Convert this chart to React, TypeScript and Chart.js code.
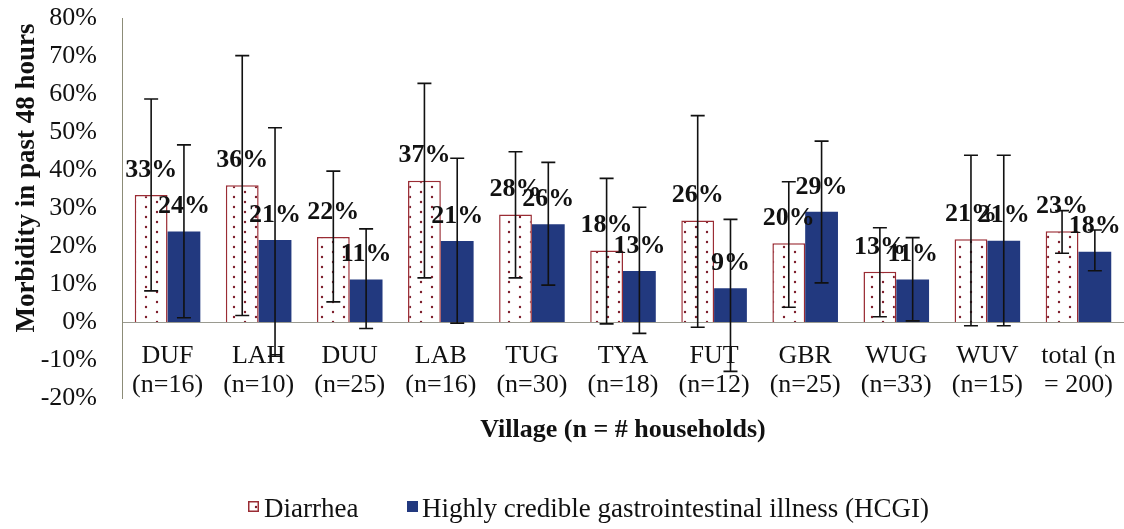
import { useEffect, useRef } from 'react';
import { Chart, registerables } from 'chart.js';

Chart.register(...registerables);

const SERIF = '"Liberation Serif", "Times New Roman", serif';

// Categories
const villageNames = ['DUF', 'LAH', 'DUU', 'LAB', 'TUG', 'TYA', 'FUT', 'GBR', 'WUG', 'WUV', 'total (n'];
const householdCounts = ['(n=16)', '(n=10)', '(n=25)', '(n=16)', '(n=30)', '(n=18)', '(n=12)', '(n=25)', '(n=33)', '(n=15)', '= 200)'];

// Diarrhea (percent)
const diarrhea = [33.4, 36.0, 22.4, 37.2, 28.3, 18.8, 26.7, 20.7, 13.2, 21.8, 23.9];
const diarrheaLabels = ['33%', '36%', '22%', '37%', '28%', '18%', '26%', '20%', '13%', '21%', '23%'];
const diarrheaHigh = [58.7, 70.1, 39.7, 62.8, 44.8, 37.8, 54.3, 36.9, 24.8, 43.9, 29.3];
const diarrheaLow = [8.2, 1.7, 5.3, 11.6, 11.6, -0.5, -1.4, 3.9, 1.4, -1.0, 18.1];

// Highly credible gastrointestinal illness (percent)
const hcgi = [23.8, 21.6, 11.2, 21.3, 25.7, 13.4, 8.9, 29.0, 11.2, 21.4, 18.5];
const hcgiLabels = ['24%', '21%', '11%', '21%', '26%', '13%', '9%', '29%', '11%', '21%', '18%'];
const hcgiHigh = [46.6, 51.1, 24.5, 43.1, 42.0, 30.2, 27.0, 47.6, 22.2, 43.9, 24.2];
const hcgiLow = [1.1, -9.0, -1.7, -0.3, 9.7, -3.0, -13.0, 10.3, 0.3, -1.0, 13.5];

// Y axis range (percent)
const yMin = -20;
const yMax = 80;
const yStep = 10;

const seriesNames = ['Diarrhea', 'Highly credible gastrointestinal illness (HCGI)'];
const xTitle = 'Village (n = # households)';
const yTitle = 'Morbidity in past 48 hours';

const RED = '#9a2c34';
const DOT = '#7c1c2a';
const NAVY = '#22397f';
const INK = '#111111';

function makeDotPattern(ctx: CanvasRenderingContext2D): CanvasPattern | string {
  const c = document.createElement('canvas');
  c.width = 22;
  c.height = 10;
  const g = c.getContext('2d');
  if (!g) return '#ffffff';
  g.fillStyle = '#ffffff';
  g.fillRect(0, 0, 22, 10);
  g.fillStyle = DOT;
  g.beginPath();
  g.arc(3, 2, 1.2, 0, Math.PI * 2);
  g.fill();
  g.beginPath();
  g.arc(14, 7, 1.2, 0, Math.PI * 2);
  g.fill();
  return ctx.createPattern(c, 'repeat') || '#ffffff';
}

export default function App() {
  const ref = useRef<HTMLCanvasElement | null>(null);

  useEffect(() => {
    document.body.style.margin = '0';
    const canvas = ref.current;
    if (!canvas) return;
    const ctx0 = canvas.getContext('2d');
    if (!ctx0) return;
    const dots = makeDotPattern(ctx0);

    const sets = [
      { labels: diarrheaLabels, high: diarrheaHigh, low: diarrheaLow },
      { labels: hcgiLabels, high: hcgiHigh, low: hcgiLow },
    ];

    const overlay = {
      id: 'overlay',
      afterDatasetsDraw(chart: any) {
        const ctx: CanvasRenderingContext2D = chart.ctx;
        const ys = chart.scales.y;
        ctx.save();
        ctx.font = `bold 26px ${SERIF}`;
        ctx.fillStyle = INK;
        ctx.textAlign = 'center';
        ctx.textBaseline = 'middle';
        sets.forEach((s, d) => {
          chart.getDatasetMeta(d).data.forEach((el: any, i: number) => {
            ctx.fillText(s.labels[i], el.x, el.y - 25);
          });
        });
        ctx.strokeStyle = INK;
        ctx.lineWidth = 1.6;
        sets.forEach((s, d) => {
          chart.getDatasetMeta(d).data.forEach((el: any, i: number) => {
            const yh = ys.getPixelForValue(s.high[i]);
            const yl = ys.getPixelForValue(s.low[i]);
            ctx.beginPath();
            ctx.moveTo(el.x, yh);
            ctx.lineTo(el.x, yl);
            ctx.moveTo(el.x - 7, yh);
            ctx.lineTo(el.x + 7, yh);
            ctx.moveTo(el.x - 7, yl);
            ctx.lineTo(el.x + 7, yl);
            ctx.stroke();
          });
        });
        ctx.restore();
      },
      afterDraw(chart: any) {
        const ctx: CanvasRenderingContext2D = chart.ctx;
        const area = chart.chartArea;
        ctx.save();
        ctx.fillStyle = INK;
        // x title
        ctx.font = `bold 26px ${SERIF}`;
        ctx.textAlign = 'center';
        ctx.textBaseline = 'middle';
        ctx.fillText(xTitle, (area.left + area.right) / 2, 430);
        // y title
        ctx.save();
        ctx.translate(27, 178);
        ctx.rotate(-Math.PI / 2);
        ctx.font = `bold 27px ${SERIF}`;
        ctx.fillText(yTitle, 0, 0);
        ctx.restore();
        // legend
        ctx.font = `27px ${SERIF}`;
        ctx.textAlign = 'left';
        ctx.textBaseline = 'alphabetic';
        const baseY = 517;
        const box = 11;
        const boxY = baseY - 16;
        ctx.fillStyle = dots as any;
        ctx.fillRect(248, boxY, box, box);
        ctx.strokeStyle = RED;
        ctx.lineWidth = 1.5;
        ctx.strokeRect(248.75, boxY + 0.75, box - 1.5, box - 1.5);
        ctx.fillStyle = INK;
        ctx.fillText(seriesNames[0], 264, baseY);
        ctx.fillStyle = NAVY;
        ctx.fillRect(407, boxY, box, box);
        ctx.fillStyle = INK;
        ctx.fillText(seriesNames[1], 422, baseY);
        ctx.restore();
      },
    };

    const chart = new Chart(canvas, {
      type: 'bar',
      data: {
        labels: villageNames.map((v, i) => [v, householdCounts[i]]),
        datasets: [
          {
            label: seriesNames[0],
            data: diarrhea,
            backgroundColor: dots as any,
            borderColor: RED,
            borderWidth: 1.5,
            categoryPercentage: 0.72,
            barPercentage: 1.0,
          },
          {
            label: seriesNames[1],
            data: hcgi,
            backgroundColor: NAVY,
            borderWidth: 0,
            categoryPercentage: 0.72,
            barPercentage: 1.0,
          },
        ],
      },
      options: {
        animation: false,
        responsive: false,
        maintainAspectRatio: false,
        devicePixelRatio: 1,
        layout: { padding: { top: 18, left: 0, right: 0, bottom: 131 } },
        plugins: {
          legend: { display: false },
          tooltip: { enabled: false },
          title: { display: false },
        },
        scales: {
          x: {
            position: { y: 0 } as any,
            grid: { display: false, drawTicks: false },
            border: { display: true, color: '#9a9a90', width: 1 },
            ticks: {
              font: { family: SERIF, size: 26, lineHeight: 1.1 },
              color: INK,
              padding: 20,
              maxRotation: 0,
              minRotation: 0,
              autoSkip: false,
            },
            afterFit: (s: any) => {
              s.paddingLeft = 0;
              s.paddingRight = 0;
            },
          },
          y: {
            min: yMin,
            max: yMax,
            grid: { display: false, drawTicks: false },
            border: { display: true, color: '#8c8c78', width: 1 },
            ticks: {
              stepSize: yStep,
              font: { family: SERIF, size: 26 },
              color: INK,
              padding: 25,
              callback: (v: any) => `${v}%`,
            },
            afterFit: (s: any) => {
              s.width = 122;
              s.paddingTop = 0;
              s.paddingBottom = 0;
            },
          },
        },
      },
      plugins: [overlay],
    });

    return () => {
      chart.destroy();
    };
  }, []);

  return (
    <canvas
      ref={ref}
      width={1124}
      height={529}
      style={{ display: 'block', width: '1124px', height: '529px' }}
    />
  );
}
